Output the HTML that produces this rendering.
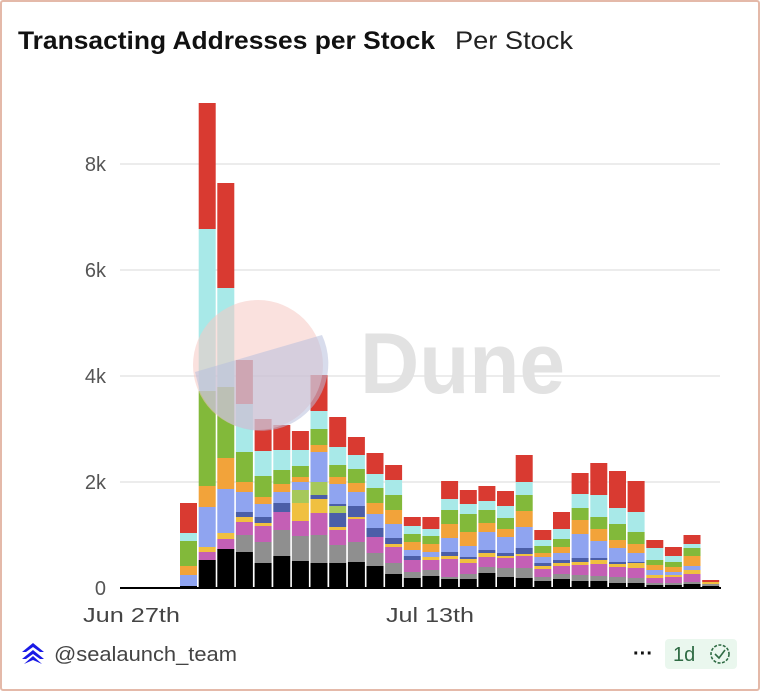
<!DOCTYPE html>
<html><head><meta charset="utf-8"><style>
body{margin:0;width:760px;height:700px;background:#fff;overflow:hidden;font-family:"Liberation Sans",sans-serif}
#card{position:absolute;left:0;top:0;width:756px;height:687px;border:2px solid #e4b9a9;border-radius:3px}
</style></head><body>
<div id="card"></div>
<svg width="760" height="700" style="position:absolute;left:0;top:0" id="s">
<text x="18" y="49" font-size="25" font-weight="bold" fill="#111" font-family="Liberation Sans,sans-serif" textLength="417" lengthAdjust="spacingAndGlyphs">Transacting Addresses per Stock</text>
<text x="455" y="49" font-size="25" fill="#222" font-family="Liberation Sans,sans-serif" textLength="118" lengthAdjust="spacingAndGlyphs">Per Stock</text>
<g stroke="#ececec" stroke-width="2">
<line x1="120" x2="720" y1="164" y2="164"/><line x1="120" x2="720" y1="270" y2="270"/>
<line x1="120" x2="720" y1="376" y2="376"/><line x1="120" x2="720" y1="482" y2="482"/>
</g>
<g font-size="20" fill="#555" text-anchor="end" font-family="Liberation Sans,sans-serif">
<text x="106" y="171">8k</text><text x="106" y="277">6k</text><text x="106" y="383">4k</text><text x="106" y="489">2k</text><text x="106" y="595">0</text>
</g>
<text x="360" y="393" font-size="86" font-weight="bold" fill="#e2e2e2" font-family="Liberation Sans,sans-serif" textLength="205" lengthAdjust="spacingAndGlyphs">Dune</text>
<g id="bars"></g>
<line x1="120" x2="721" y1="588" y2="588" stroke="#000" stroke-width="2"/>
<circle cx="258" cy="365" r="65" fill="#f6c9c2" opacity="0.55"/>
<path d="M195,372 L322,335 A65,65 0 0 1 200,392 Z" fill="#b8bfdc" opacity="0.55"/>
<g font-size="20" fill="#444" font-family="Liberation Sans,sans-serif">
<text x="83" y="622" textLength="97" lengthAdjust="spacingAndGlyphs">Jun 27th</text><text x="386" y="622" textLength="88" lengthAdjust="spacingAndGlyphs">Jul 13th</text>
</g>
<g fill="#1a1ae6">
<path d="M22,652 L33,643 L44,652 L40,652 L33,647 L26,652Z"/>
<path d="M22,659 L33,650 L44,659 L40,659 L33,654 L26,659Z"/>
<path d="M24,664 L33,656 L42,664 L33,660Z"/>
</g>
<text x="54" y="661" font-size="20" fill="#444" font-family="Liberation Sans,sans-serif" textLength="183" lengthAdjust="spacingAndGlyphs">@sealaunch_team</text>
<text x="643" y="660" font-size="20" fill="#111" text-anchor="middle" font-weight="bold">···</text>
<rect x="665" y="639" width="72" height="30" rx="4" fill="#eaf7ee"/>
<text x="673" y="661" font-size="20" fill="#2f6b44" font-family="Liberation Sans,sans-serif">1d</text>
<circle cx="720" cy="654" r="9" fill="none" stroke="#2f6b44" stroke-width="1.6" stroke-dasharray="3 1.5"/>
<path d="M715,654 L719,658 L725,650" fill="none" stroke="#2f6b44" stroke-width="1.6"/>
</svg>
<script>
var C={r:"#d93a31",c:"#a8e9e8",g:"#82b93a",o:"#f2a33a",b:"#8fa4f0",d:"#4b5ea8",y:"#f0c040",l:"#a6c85a",p:"#c45fb5",G:"#8f8f8f",k:"#000"};
var B=[
"r503 c533 g541 o566 b575 k586",
"r103 c229 g391 o486 b507 y547 p552 k560",
"r183 c288 g387 o458 b489 y533 p539 k549",
"r360 c404 g452 o482 b492 d512 y517 p522 G535 k552",
"r419 c451 g476 o497 b504 d517 y523 p526 G542 k563",
"r425 c450 g470 o484 b492 d503 p512 G530 k556",
"r431 c450 g466 o477 b482 l490 y503 p521 G536 k561",
"r375 c411 g429 o445 b452 l482 d495 y499 p513 G535 k563",
"r417 c447 g465 o477 b484 d504 l506 d513 y527 p530 G545 k563",
"r437 c455 g469 o483 b492 d506 y517 p519 G542 k562",
"r453 c474 g488 o503 b514 d528 p537 G553 k566",
"r465 c480 g495 o510 b524 d538 y544 p547 G563 k574",
"r517 c526 g534 o542 b550 d556 p560 G572 k578",
"r517 c529 g536 o544 b552 y557 p560 G570 k576",
"r481 c499 g510 o524 b538 d552 y556 p559 G577 k579",
"r490 c504 g514 o532 b546 d557 y559 p563 G574 k579",
"r486 c501 g510 o523 b532 d550 y553 p557 G567 k573",
"r491 c506 g518 o529 b537 d553 y556 p558 G568 k577",
"r455 c482 g495 o511 b527 d548 y554 p556 G568 k578",
"r530 c540 g546 o553 b557 d563 y566 p569 G577 k581",
"r512 c529 g539 o547 b553 d560 y563 p566 G574 k579",
"r473 c494 g508 o520 b534 d558 y562 p565 G575 k581",
"r463 c495 g517 o529 b541 d558 y560 p564 G576 k581",
"r471 c508 g524 o540 b548 d562 y564 p567 G577 k583",
"r481 c512 g532 o544 b553 d562 y563 p568 G578 k583",
"r540 c548 g560 o565 b570 y575 p578 G583 k585",
"r547 c556 g562 o567 b572 y575 p577 G583 k585",
"r535 c544 g548 o556 b566 y570 p574 G582 k584",
"r580 y582 G584 k586"];
var h="";
B.forEach(function(s,i){
 var x=180+i*18.65,seg=s.split(" ");
 for(var j=0;j<seg.length;j++){
  var t=+seg[j].slice(1),b=j+1<seg.length?+seg[j+1].slice(1):588;
  h+='<rect x="'+x.toFixed(1)+'" y="'+t+'" width="17" height="'+(b-t)+'" fill="'+C[seg[j][0]]+'"/>';
 }
});
document.getElementById("bars").innerHTML=h;
</script>
</body></html>
